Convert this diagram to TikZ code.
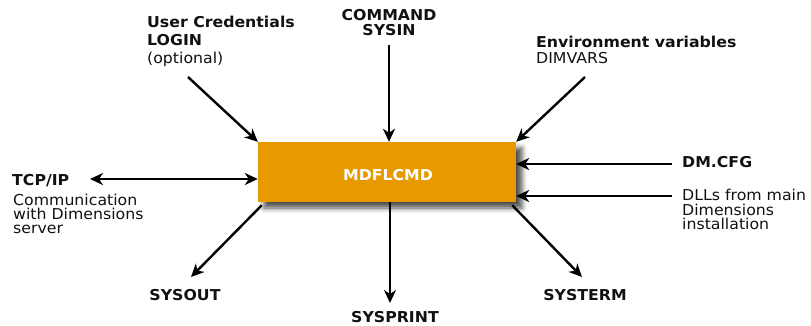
\documentclass[tikz,border=0pt]{standalone}
\usepackage{fontspec}
\setmainfont{DejaVu Sans}[FakeStretch=1.05]
\usetikzlibrary{arrows.meta,shadows.blur,calc}
\definecolor{boxorange}{HTML}{E69A00}
\definecolor{txt}{HTML}{111111}
\tikzset{
  lbl/.style={font=\fontsize{15}{15}\selectfont, inner sep=0pt, anchor=base west, text=txt},
  lblb/.style={font=\fontsize{15}{15}\selectfont\bfseries, inner sep=0pt, anchor=base west, text=txt},
  lblc/.style={lblb, anchor=base},
  arr/.style={line width=2.4pt, -{Stealth[length=13pt,width=12pt,inset=4pt]}},
  darr/.style={line width=2.4pt, {Stealth[length=13pt,width=12pt,inset=4pt]}-{Stealth[length=13pt,width=12pt,inset=4pt]}},
  mainbox/.style={fill=boxorange, minimum width=258pt, minimum height=60pt, inner sep=0pt,
    blur shadow={shadow xshift=6pt, shadow yshift=-6pt, shadow blur radius=5pt, shadow opacity=70}}
}
\begin{document}
\begin{tikzpicture}[x=1pt,y=-1pt]
\useasboundingbox (0,0) rectangle (811,325);
% central box
\node[mainbox] (main) at (387,172) {};
\node[lblc, text=white] (maintext) at (388,180) {MDFLCMD};

% labels
\node[lblb] (uc1) at (147,27) {User Credentials};
\node[lblb] (uc2) at (147,45) {LOGIN};
\node[lbl]  (uc3) at (147,63) {(optional)};

\node[lblc] (cmd1) at (389,20) {COMMAND};
\node[lblc] (cmd2) at (389,35) {SYSIN};

\node[lblb] (env1) at (536,47) {Environment variables};
\node[lbl]  (env2) at (536,63) {DIMVARS};

\node[lblb] (dm) at (682,167) {DM.CFG};
\node[lbl] (dll1) at (682,200) {DLLs from main};
\node[lbl] (dll2) at (682,215) {Dimensions};
\node[lbl] (dll3) at (682,229) {installation};

\node[lblb] (tcp) at (12,185) {TCP/IP};
\node[lbl] (tcp1) at (13,205) {Communication};
\node[lbl] (tcp2) at (13,219) {with Dimensions};
\node[lbl] (tcp3) at (13,233) {server};

\node[lblc] (sysout) at (185,300) {SYSOUT};
\node[lblc] (sysprint) at (395,322) {SYSPRINT};
\node[lblc] (systerm) at (585,300) {SYSTERM};

% free ends
\coordinate (ucS) at (188,77);
\coordinate (cmdS) at (389,45);
\coordinate (envS) at (585,77);
\coordinate (dmS) at (672,164);
\coordinate (dllS) at (672,196);
\coordinate (tcpL) at (90,179);
\coordinate (soutE) at (191,277);
\coordinate (sprE) at (390,303);
\coordinate (stermE) at (582,277);

% connectors
\draw[arr] (ucS) -- (main.north west);
\draw[arr] (cmdS) -- ([xshift=2pt]main.north);
\draw[arr] (envS) -- (main.north east);
\draw[arr] (dmS) -- ([yshift=8pt]main.east);
\draw[arr] (dllS) -- ([yshift=-24pt]main.east);
\draw[darr] (tcpL) -- ([yshift=-7pt]main.west);
\draw[arr] ([xshift=4pt,yshift=-3pt]main.south west) -- (soutE);
\draw[arr] ([xshift=3pt]main.south) -- (sprE);
\draw[arr] ([xshift=-4pt,yshift=-3pt]main.south east) -- (stermE);
\end{tikzpicture}
\end{document}
